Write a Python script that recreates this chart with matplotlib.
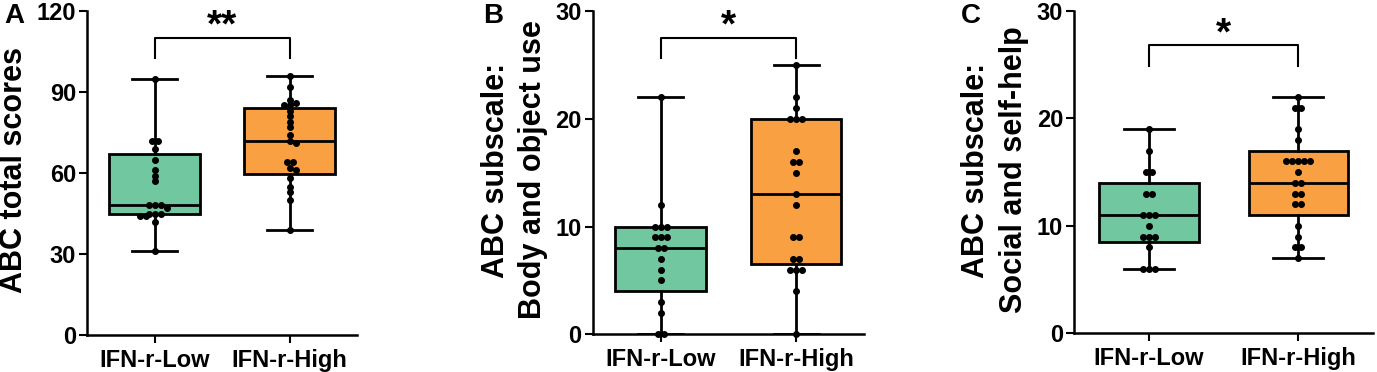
import numpy as np
import matplotlib
matplotlib.use('Agg')
import matplotlib.pyplot as plt

plt.rcParams['font.family'] = ['Liberation Sans', 'DejaVu Sans']
plt.rcParams['font.weight'] = 'bold'

groups = ['IFN-r-Low', 'IFN-r-High']
colors = ['#71c79f', '#f9a042']

# raw scores
a_low = [95, 72, 72, 69, 65, 61, 59, 57, 48, 48, 48, 47, 45, 45, 45, 44, 44, 42, 31]
a_high = [96, 92, 87, 86, 85, 85, 83, 81, 79, 77, 74, 72, 71, 64, 64, 62, 61, 58, 55, 53, 50, 39]
b_low = [22, 12, 10, 10, 10, 9, 9, 9, 8, 8, 7, 6, 5, 3, 2, 0, 0]
b_high = [25, 22, 21, 20, 20, 20, 17, 16, 16, 15, 13, 12, 9, 9, 7, 7, 6, 6, 6, 4, 0]
c_low = [19, 17, 15, 15, 13, 13, 11, 11, 11, 10, 9, 9, 9, 8, 6, 6, 6]
c_high = [22, 21, 21, 19, 18, 16, 16, 16, 16, 16, 15, 14, 14, 13, 13, 12, 12, 10, 9, 8, 8, 7]

# box stats as drawn (whisker low, q1, median, q3, whisker high)
a_box = [[31, 45, 48, 67, 95], [39, 59.5, 72, 84, 96]]
b_box = [[0, 4, 8, 10, 22], [0, 6.5, 13, 20, 25]]
c_box = [[6, 8.5, 11, 14, 19], [7, 11, 14, 17, 22]]

ylabels = [['ABC total scores'], ['ABC subscale:', 'Body and object use'],
           ['ABC subscale:', 'Social and self-help']]
stars = ['**', '*', '*']
ymax = [120, 30, 30]
yticks = [[0, 30, 60, 90, 120], [0, 10, 20, 30], [0, 10, 20, 30]]
brackets = [(110, 102.5), (27.5, 25.6), (26.8, 24.9)]

W, H = 1377, 372
fig = plt.figure(figsize=(W / 100, H / 100), dpi=100)
rects = [(87, 357, 11, 335), (592.7, 864, 11, 334.3), (1074.3, 1373, 11, 333.3)]
lab_x = [[14.5], [496, 532.5], [976.5, 1014]]
letters = [('A', 14), ('B', 493), ('C', 971)]


def swarm(vals, center, xs, ys, d=6.0):
    # simple beeswarm in pixel space, identical values spread symmetrically
    placed = []
    out_x, out_y = [], []
    uniq = sorted(set(vals), reverse=True)
    for v in uniq:
        k = vals.count(v)
        base = (np.arange(k) - (k - 1) / 2) * d
        for s in [0, d / 2, -d / 2, d, -d, 1.5 * d, -1.5 * d, 2 * d, -2 * d]:
            cand = base + s
            ok = True
            for cx in cand:
                for px, pv in placed:
                    if np.hypot(cx - px, (v - pv) * ys) < d * 0.8:
                        ok = False
            if ok:
                break
        for cx in cand:
            placed.append((cx, v))
            out_x.append(center + cx / xs)
            out_y.append(v)
    return out_x, out_y


data = [(a_low, a_high, a_box), (b_low, b_high, b_box), (c_low, c_high, c_box)]
for i, (lo, hi, box) in enumerate(data):
    l, r, t, b = rects[i]
    ax = fig.add_axes([l / W, (H - b) / H, (r - l) / W, (b - t) / H])
    ax.set_xlim(-0.5, 1.5)
    ax.set_ylim(0, ymax[i])
    stats = []
    for j, bx in enumerate(box):
        stats.append(dict(whislo=bx[0], q1=bx[1], med=bx[2], q3=bx[3], whishi=bx[4], fliers=[]))
    bp = ax.bxp(stats, positions=[0, 1], widths=0.667, patch_artist=True, showfliers=False,
                boxprops=dict(linewidth=2, edgecolor='black'),
                medianprops=dict(color='black', linewidth=2),
                whiskerprops=dict(color='black', linewidth=2),
                capprops=dict(color='black', linewidth=2), capwidths=0.333)
    for patch, c in zip(bp['boxes'], colors):
        patch.set_facecolor(c)
    xs = (r - l) / 2.0
    ys = (b - t) / ymax[i]
    for j, vals in enumerate([lo, hi]):
        px, py = swarm(vals, j, xs, ys)
        ax.plot(px, py, 'o', color='black', markersize=4, zorder=5, clip_on=False)

    # significance bracket
    top, leg = brackets[i]
    ax.plot([0, 0, 1, 1], [leg, top, top, leg], color='black', linewidth=1.5, clip_on=False)
    ax.annotate(stars[i], (0.5, top), xytext=(0, 1), textcoords='offset points',
                ha='center', va='baseline', fontsize=28, fontweight='bold')

    ax.set_xticks([0, 1])
    ax.set_xticklabels(groups)
    ax.set_yticks(yticks[i])
    ax.tick_params(axis='both', labelsize=17, width=1.5, length=6)
    ax.tick_params(axis='x', pad=4)
    ax.tick_params(axis='y', pad=2)
    for s in ['top', 'right']:
        ax.spines[s].set_visible(False)
    for s in ['left', 'bottom']:
        ax.spines[s].set_linewidth(1.8)

    for txt, lx in zip(ylabels[i], lab_x[i]):
        fig.text(lx / W, (H - 170) / H, txt, rotation=90, ha='center', va='center',
                 fontsize=22, fontweight='bold')
    fig.text(letters[i][1] / W, (H - 23) / H, letters[i][0], ha='center', va='baseline',
             fontsize=20, fontweight='bold')

fig.savefig('out.png', dpi=100)
